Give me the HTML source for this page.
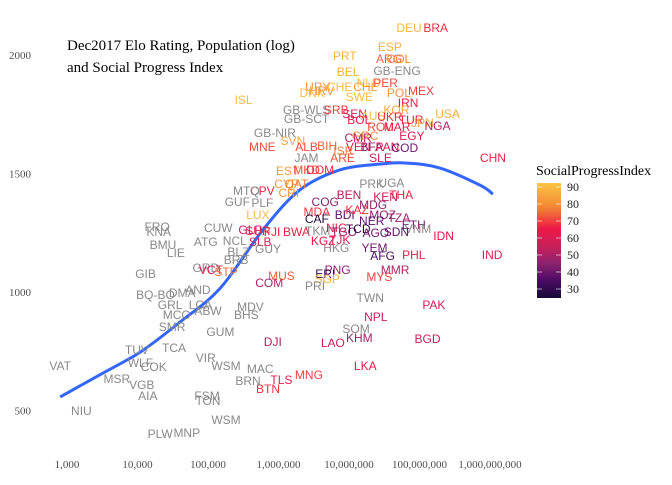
<!DOCTYPE html>
<html><head><meta charset="utf-8"><style>
body{margin:0;background:#fff;}
svg text{font-family:"Liberation Sans",sans-serif;}
.serif{font-family:"Liberation Serif",serif;}
</style></head><body>
<svg id="chart" width="672" height="480" viewBox="0 0 672 480" xmlns="http://www.w3.org/2000/svg">
<rect width="672" height="480" fill="#fff"/>
<g id="xaxis"></g>
<g id="yaxis"></g>
<path id="fit" fill="none" stroke="#3366FF" stroke-width="3"/>
<g id="labels"></g>
<text class="serif" x="67" y="50" font-size="15" fill="#000">Dec2017 Elo Rating, Population (log)</text>
<text class="serif" x="67" y="72" font-size="15" fill="#000">and Social Progress Index</text>
<g id="legend">
<text class="serif" x="536" y="175" font-size="14" fill="#000">SocialProgressIndex</text>
<defs><linearGradient id="grad" x1="0" y1="0" x2="0" y2="1">
<stop offset="0" stop-color="#F9C443"/><stop offset="0.2" stop-color="#F38A35"/><stop offset="0.4" stop-color="#EE1846"/><stop offset="0.55" stop-color="#C8205A"/><stop offset="0.7" stop-color="#8A2370"/><stop offset="0.85" stop-color="#4A0B62"/><stop offset="1" stop-color="#170A38"/>
</linearGradient></defs>
<rect x="537" y="183" width="24" height="115" fill="url(#grad)"/>
<g id="legticks"></g>
</g>
</svg>
<script>
const codes=["DEU","BRA","ESP","PRT","ARG","COL","BEL","GB-ENG","NLD","PER","URY","HRV","CHE","CHL","DNK","SWE","POL","MEX","ISL","IRN","USA","KOR","GB-WLS","SRB","SEN","AUS","UKR","GB-SCT","BOL","ROU","MAR","TUR","JPN","NGA","GB-NIR","GRC","EGY","SVN","CMR","MNE","ALB","BIH","VEN","BFA","PAN","COD","JAM","ARE","ISR","SLE","EST","MKD","DOM","CHN","CPV","CYP","MTQ","QAT","CRI","PRK","UGA","KEN","THA","BEN","GUF","PLF","LUX","COG","MDG","MDA","CAF","BDI","KAZ","MOZ","TZA","NER","ETH","VNM","SUR","FJI","BWA","TKM","NIC","TGO","TCD","AGO","SDN","KGZ","TJK","IDN","HKG","YEM","AFG","PHL","IND","MMR","MYS","PNG","ERI","SGP","PRI","MUS","COM","TWN","PAK","NPL","SOM","KHM","BGD","LAO","DJI","LKA","MNG","TLS","BTN","BRN","MAC","WSM","WSM","VIR","FSM","TON","VGB","AIA","COK","TCA","WLF","TUV","MSR","VAT","NIU","PLW","MNP","GUM","BHS","MDV","SMR","MCO","GRL","LCA","ABW","BQ-BO","DMA","AND","GIB","LIE","BMU","ATG","KNA","FRO","CUW","GRD","VCT","STP","BRB","GLP","SLB","GUY","BLZ","NCL"];
const pops=[7.1e7,1.7e8,3.8e7,8.7e6,3.7e7,5.1e7,9.7e6,4.8e7,1.9e7,3.3e7,3.6e6,4.1e6,7.4e6,1.7e7,3.0e6,1.4e7,5.1e7,1.05e8,3.2e5,6.9e7,2.5e8,4.7e7,2.5e6,6.6e6,1.2e7,2.2e7,3.8e7,2.5e6,1.4e7,2.8e7,4.8e7,7.6e7,1.1e8,1.8e8,8.9e5,1.7e7,7.8e7,1.6e6,1.35e7,5.9e5,2.5e6,4.9e6,1.35e7,2.1e7,3.5e7,6.2e7,2.5e6,8.1e6,8.3e6,2.8e7,1.35e6,2.5e6,3.9e6,1.1e9,5.9e5,1.3e6,3.5e5,1.8e6,1.4e6,2.1e7,4.0e7,3.3e7,5.5e7,1.0e7,2.6e5,5.9e5,5.1e5,4.6e6,2.2e7,3.5e6,3.5e6,8.7e6,1.3e7,3.0e7,5.1e7,2.1e7,8.3e7,9.5e7,5.1e5,8.1e5,1.8e6,3.6e6,6.6e6,8.5e6,1.35e7,2.4e7,4.7e7,4.3e6,7.4e6,2.2e8,6.6e6,2.3e7,3.0e7,8.3e7,1.07e9,4.5e7,2.7e7,6.9e6,4.6e6,4.9e6,3.3e6,1.1e6,7.4e5,2.0e7,1.6e8,2.4e7,1.26e7,1.4e7,1.3e8,5.9e6,8.3e5,1.7e7,2.7e6,1.1e6,7.1e5,3.7e5,5.5e5,1.8e5,1.8e5,9.3e4,9.7e4,1.0e5,1.15e4,1.4e4,1.7e4,3.3e4,1.1e4,9.8e3,5.1e3,800,1.6e3,2.1e4,5.0e4,1.5e5,3.5e5,4.0e5,3.1e4,3.6e4,2.9e4,7.8e4,1.0e5,1.8e4,4.3e4,7.2e4,1.3e4,3.5e4,2.3e4,9.3e4,2.0e4,1.9e4,1.4e5,9.3e4,1.1e5,1.8e5,2.5e5,4.0e5,5.5e5,7.1e5,2.7e5,2.4e5];
const elos=[2114,2114,2034,1996,1983,1983,1928,1932,1882,1882,1865,1848,1865,1865,1840,1823,1840,1848,1810,1797,1751,1768,1768,1768,1751,1743,1738,1730,1726,1696,1696,1726,1713,1700,1671,1658,1658,1637,1650,1612,1612,1616,1612,1612,1612,1608,1565,1565,1595,1565,1510,1515,1515,1565,1426,1456,1426,1456,1418,1456,1460,1401,1409,1409,1380,1375,1325,1380,1367,1337,1308,1325,1346,1325,1312,1299,1283,1266,1257,1253,1253,1257,1270,1253,1266,1249,1253,1215,1219,1236,1185,1185,1152,1156,1156,1093,1063,1093,1076,1055,1025,1067,1038,975,945,894,844,806,801,785,789,688,650,629,591,624,675,688,460,721,561,540,607,561,683,764,700,755,633,688,498,401,405,831,903,937,852,903,945,945,920,987,996,1008,1076,1164,1198,1211,1253,1274,1270,1101,1093,1084,1135,1261,1211,1181,1168,1215];
const spis=[89,68,88,88,74,80,88,null,90,72,82,82,90,83,90,90,82,70,90,62,87,86,null,70,60,90,68,null,64,72,64,66,86,50,null,80,60,86,52,72,72,75,64,45,60,40,null,72,78,55,84,72,68,66,66,84,null,78,82,null,null,55,66,52,null,null,90,45,45,68,28,38,68,45,48,38,42,null,66,66,66,null,62,45,28,40,38,65,58,62,null,40,35,64,58,52,70,45,30,88,null,74,50,null,55,58,null,48,55,55,50,64,70,62,68,null,null,null,null,null,null,null,null,null,null,null,null,null,null,null,null,null,null,null,null,null,null,null,null,null,null,null,null,null,null,null,null,null,null,null,null,null,60,76,null,54,60,null,null];
const fitPops=[800,2.9e3,1.1e4,4.0e4,1.5e5,6.0e5,2.0e6,7.4e6,2.8e7,6.6e7,1.95e8,7.2e8,1.1e9];
const fitElos=[557,650,747,873,1017,1262,1430,1515,1540,1544,1523,1451,1413];
const xTicks=[1e3,1e4,1e5,1e6,1e7,1e8,1e9];
const xTickLabels=["1,000","10,000","100,000","1,000,000","10,000,000","100,000,000","1,000,000,000"];
const yTicks=[500,1000,1500,2000];
const legendTicks=[90,80,70,60,50,40,30];

const NS="http://www.w3.org/2000/svg";
const xs=p=>67+(Math.log10(p)-3)*70.5;
const ys=e=>55+(2000-e)*0.237;
const ls=v=>187+(90-v)*1.7;
const stops=[[25,[23,10,56]],[35,[74,11,98]],[45,[138,35,112]],[55,[200,32,90]],[65,[238,24,70]],[80,[243,138,53]],[92,[249,196,67]]];
function col(v){
  if(v==null) return "#888888";
  for(let i=0;i<stops.length-1;i++){
    const [a,ca]=stops[i],[b,cb]=stops[i+1];
    if(v<=b||i==stops.length-2){const t=Math.max(0,Math.min(1,(v-a)/(b-a)));
      return "rgb("+ca.map((c,j)=>Math.round(c+(cb[j]-c)*t)).join(",")+")";}
  }
}
function mk(tag,attrs,parent,txt){const e=document.createElementNS(NS,tag);for(const k in attrs)e.setAttribute(k,attrs[k]);if(txt!=null)e.textContent=txt;parent.appendChild(e);return e;}
const xa=document.getElementById("xaxis");
xTicks.forEach((t,i)=>{const e=mk("text",{x:xs(t),y:468,"text-anchor":"middle","font-size":"11",fill:"#4d4d4d",class:"serif"},xa,xTickLabels[i]);

});
const ya=document.getElementById("yaxis");
yTicks.forEach(t=>{const e=mk("text",{x:31,y:ys(t)+4,"text-anchor":"end","font-size":"11",fill:"#4d4d4d",class:"serif"},ya,String(t));

});
const lg=document.getElementById("labels");
codes.forEach((c,i)=>{const e=mk("text",{x:xs(pops[i]),y:ys(elos[i])+4,"text-anchor":"middle","font-size":"12",fill:col(spis[i])},lg,c);

});
// fit path via catmull-rom
const P=fitPops.map((p,i)=>[xs(p),ys(fitElos[i])]);
let d="M"+P[0][0]+","+P[0][1];
for(let i=0;i<P.length-1;i++){const p0=P[i-1]||P[i],p1=P[i],p2=P[i+1],p3=P[i+2]||P[i+1];
d+=" C"+(p1[0]+(p2[0]-p0[0])/6)+","+(p1[1]+(p2[1]-p0[1])/6)+" "+(p2[0]-(p3[0]-p1[0])/6)+","+(p2[1]-(p3[1]-p1[1])/6)+" "+p2[0]+","+p2[1];}
document.getElementById("fit").setAttribute("d",d);
const lt=document.getElementById("legticks");
legendTicks.forEach(v=>{
const a=mk("line",{x1:537,x2:542,y1:ls(v),y2:ls(v),stroke:"#fff","stroke-opacity":"0.6"},lt);


const b=mk("line",{x1:556,x2:561,y1:ls(v),y2:ls(v),stroke:"#fff","stroke-opacity":"0.6"},lt);


const e=mk("text",{x:567,y:ls(v)+4,"font-size":"12",fill:"#222",class:"serif"},lt,String(v));

});
</script>
</body></html>
